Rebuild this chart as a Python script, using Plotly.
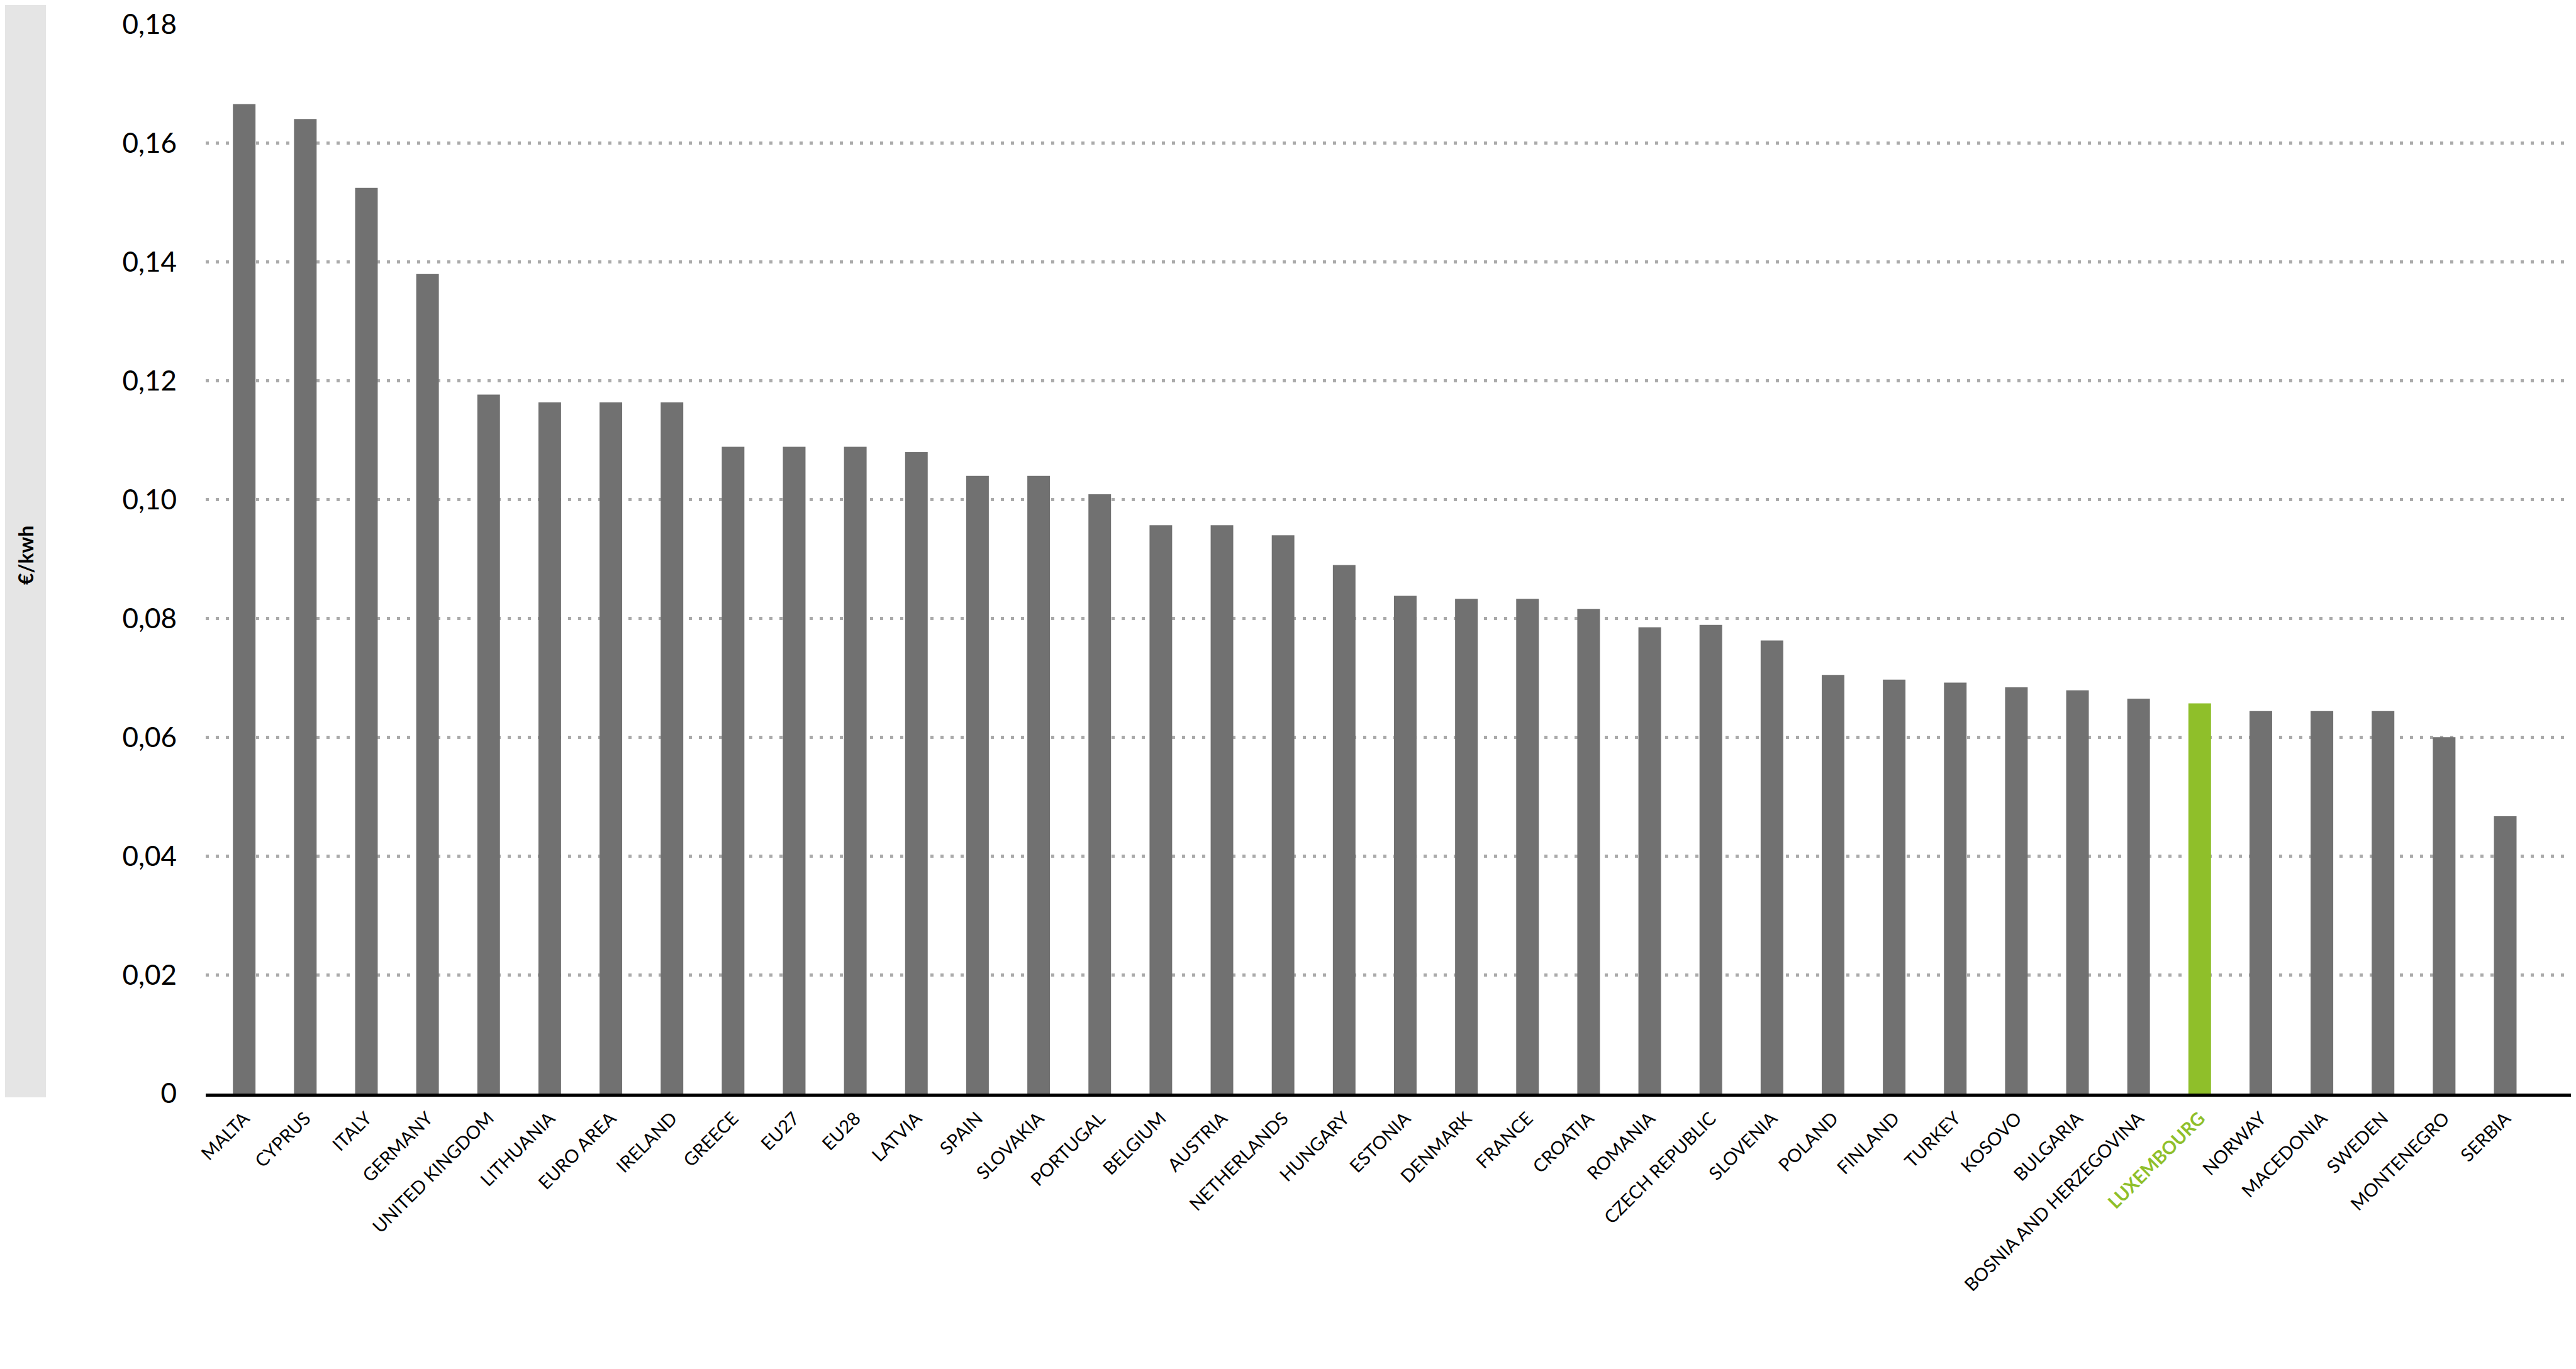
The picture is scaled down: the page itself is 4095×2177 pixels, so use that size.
import plotly.graph_objects as go

countries = ["MALTA", "CYPRUS", "ITALY", "GERMANY", "UNITED KINGDOM", "LITHUANIA", "EURO AREA",
             "IRELAND", "GREECE", "EU27", "EU28", "LATVIA", "SPAIN", "SLOVAKIA", "PORTUGAL",
             "BELGIUM", "AUSTRIA", "NETHERLANDS", "HUNGARY", "ESTONIA", "DENMARK", "FRANCE",
             "CROATIA", "ROMANIA", "CZECH REPUBLIC", "SLOVENIA", "POLAND", "FINLAND", "TURKEY",
             "KOSOVO", "BULGARIA", "BOSNIA AND HERZEGOVINA", "LUXEMBOURG", "NORWAY",
             "MACEDONIA", "SWEDEN", "MONTENEGRO", "SERBIA"]
prices = [0.1666, 0.1641, 0.1525, 0.1380, 0.1177, 0.1164, 0.1164, 0.1164, 0.1089, 0.1089,
          0.1089, 0.1080, 0.1040, 0.1040, 0.1009, 0.0957, 0.0957, 0.0940, 0.0890, 0.0838,
          0.0833, 0.0833, 0.0816, 0.0785, 0.0789, 0.0763, 0.0705, 0.0697, 0.0692, 0.0684,
          0.0679, 0.0665, 0.0657, 0.0644, 0.0644, 0.0644, 0.0600, 0.0467]
highlight = "LUXEMBOURG"
y_ticks = [0, 0.02, 0.04, 0.06, 0.08, 0.10, 0.12, 0.14, 0.16, 0.18]
y_tick_labels = ["0", "0,02", "0,04", "0,06", "0,08", "0,10", "0,12", "0,14", "0,16", "0,18"]
y_title = "€/kwh"

GREY = "#717171"
GREEN = "#8fbf2a"

colors = [GREEN if c == highlight else GREY for c in countries]
tick_text = [f"<span style='color:{GREEN}'><b>{c}</b></span>" if c == highlight else c
             for c in countries]

W, H = 4095, 2177
ml, mt, mb = 319, 31, 446
plot_w = W - ml
plot_h = H - mt - mb
zero_px = mt + plot_h

fig = go.Figure(go.Bar(x=countries, y=prices, marker=dict(color=colors, line=dict(width=0)),
                       hoverinfo="x+y"))

fig.update_layout(
    width=W, height=H,
    margin=dict(l=ml, r=0, t=mt, b=mb, pad=0),
    plot_bgcolor="white", paper_bgcolor="white",
    bargap=0.63, showlegend=False,
    font=dict(family="Lato, sans-serif", color="black"),
)
fig.update_xaxes(
    range=[-0.63, 38.24], showgrid=False, showline=True, linecolor="black", linewidth=5,
    tickmode="array", tickvals=countries, ticktext=tick_text, tickangle=-45,
    tickfont=dict(size=29, family="Lato, sans-serif", color="black"),
    ticks="", ticklabelstandoff=6, zeroline=False,
)
fig.update_yaxes(
    range=[0, 0.18], tickmode="array", tickvals=y_ticks, ticktext=y_tick_labels,
    tickfont=dict(size=44, family="Lato, sans-serif", color="black"),
    showgrid=True, gridcolor="#aaaaaa", gridwidth=5, griddash="5px,11px",
    zeroline=False, showline=False, ticks="", ticklabelstandoff=45,
)

# grey band on the left
fig.add_shape(type="rect", xref="paper", yref="paper",
              x0=-ml / plot_w, x1=(65 - ml) / plot_w,
              y0=(zero_px - 1737) / plot_h, y1=zero_px / plot_h,
              fillcolor="#e5e5e5", line=dict(width=0), layer="below")
fig.add_annotation(text=f"<b>{y_title}</b>", xref="paper", yref="paper",
                   x=(32 - ml) / plot_w, y=(zero_px - 875) / plot_h, textangle=-90,
                   showarrow=False, xanchor="center", yanchor="middle",
                   font=dict(size=32, family="Lato, sans-serif", color="black"))

fig.write_html("out.html")
